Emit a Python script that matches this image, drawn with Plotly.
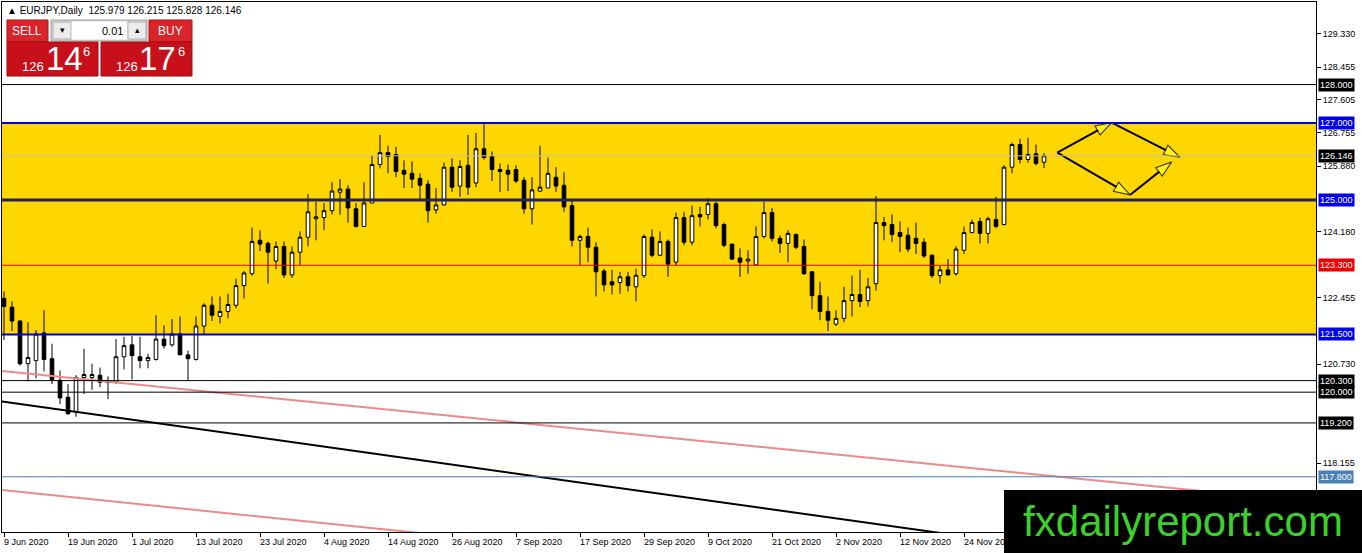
import plotly.graph_objects as go

FONT = "Liberation Sans"

# EURJPY daily candles from 9 Jun 2020
opens = [
    122.44, 122.21, 121.85, 120.74, 120.82, 121.54, 120.87, 120.31, 119.87, 119.49,
    120.38, 120.38, 120.44, 120.26, 120.26, 120.92, 121.23, 120.92, 120.82, 120.85,
    121.38, 121.23, 121.51, 120.97, 120.85, 121.72, 122.26, 121.97, 122.10, 122.26,
    122.77, 123.08, 123.95, 123.87, 123.41, 123.79, 123.05, 123.64, 124.03, 124.51,
    124.54, 124.72, 125.20, 125.28, 124.77, 124.31, 124.92, 125.92, 126.23, 126.18,
    125.77, 125.69, 125.56, 125.41, 124.74, 124.87, 125.85, 125.36, 125.90, 125.44,
    126.33, 126.13, 125.79, 125.77, 125.79, 125.51, 124.77, 125.23, 125.31, 125.59,
    125.38, 124.85, 123.95, 124.05, 123.77, 123.15, 122.87, 122.85, 123.00, 122.74,
    123.03, 124.03, 123.56, 123.92, 123.38, 124.54, 123.90, 124.62, 124.62, 124.90,
    124.36, 123.85, 123.49, 123.41, 123.31, 124.05, 124.67, 124.00, 123.87, 124.10,
    123.79, 123.13, 122.51, 122.10, 121.77, 121.92, 122.38, 122.54, 122.38, 122.82,
    124.41, 124.36, 124.15, 124.08, 124.00, 123.90, 123.56, 123.03, 123.18, 123.08,
    123.69, 124.15, 124.44, 124.13, 124.49, 124.36, 125.85, 126.44, 126.05, 126.20,
    125.979,
]
highs = [
    122.62, 122.36, 121.87, 121.82, 121.62, 122.13, 121.26, 120.56, 120.21, 120.44,
    121.13, 120.74, 120.64, 120.41, 121.38, 121.44, 121.46, 121.44, 121.00, 122.00,
    121.74, 121.90, 121.97, 121.08, 121.97, 122.31, 122.49, 122.49, 122.56, 122.95,
    123.15, 124.28, 124.21, 123.92, 123.92, 123.92, 123.79, 124.18, 125.15, 124.95,
    124.92, 125.46, 125.54, 125.38, 124.92, 125.46, 126.15, 126.69, 126.41, 126.38,
    126.03, 126.00, 125.69, 125.51, 125.31, 125.97, 126.08, 126.03, 126.69, 126.74,
    126.97, 126.26, 125.95, 125.92, 125.90, 125.59, 125.59, 126.41, 126.10, 125.85,
    125.72, 125.00, 124.10, 124.28, 123.90, 123.21, 123.18, 123.13, 123.13, 123.21,
    124.10, 124.23, 124.18, 123.97, 124.67, 124.69, 124.85, 124.82, 125.05, 124.95,
    124.41, 123.85, 123.74, 123.69, 124.31, 124.95, 124.79, 124.08, 124.21, 124.13,
    123.97, 123.13, 122.87, 122.49, 122.13, 122.74, 123.03, 123.18, 122.97, 125.10,
    124.56, 124.62, 124.44, 124.28, 124.41, 124.00, 123.59, 123.28, 123.46, 123.79,
    124.31, 124.49, 124.54, 124.56, 125.08, 125.90, 126.49, 126.59, 126.62, 126.44,
    126.215,
]
lows = [
    121.36, 121.59, 120.69, 120.28, 120.36, 120.54, 120.21, 119.69, 119.41, 119.36,
    119.95, 120.06, 120.13, 119.82, 120.21, 120.59, 120.33, 120.62, 120.62, 120.82,
    121.13, 121.18, 120.97, 120.31, 120.82, 121.49, 121.85, 121.79, 121.92, 122.18,
    122.44, 123.03, 123.67, 122.82, 123.20, 122.97, 122.97, 123.30, 123.79, 123.95,
    124.21, 124.62, 124.62, 124.41, 124.28, 124.31, 124.92, 125.82, 125.69, 125.59,
    125.31, 125.31, 125.00, 124.41, 124.64, 124.85, 125.21, 125.08, 125.13, 125.33,
    126.05, 125.49, 125.21, 125.23, 125.44, 124.64, 124.36, 125.21, 125.31, 125.21,
    124.69, 123.79, 123.30, 123.38, 122.49, 122.62, 122.54, 122.56, 122.62, 122.36,
    122.97, 123.51, 123.54, 123.00, 123.28, 123.82, 123.82, 124.31, 124.49, 124.26,
    123.77, 123.44, 123.00, 123.08, 123.31, 124.00, 123.92, 123.62, 123.38, 123.72,
    123.05, 122.15, 121.87, 121.59, 121.72, 121.82, 121.97, 122.21, 122.23, 122.64,
    123.95, 123.90, 123.64, 123.64, 123.59, 123.49, 122.97, 122.82, 123.03, 123.03,
    123.59, 124.13, 123.87, 123.87, 124.26, 124.33, 125.69, 125.95, 125.97, 125.90,
    125.828,
]
closes = [
    122.23, 121.85, 120.74, 120.90, 121.51, 120.85, 120.33, 119.85, 119.44, 120.38,
    120.46, 120.46, 120.26, 120.27, 120.92, 121.21, 120.95, 120.82, 120.90, 121.38,
    121.21, 121.51, 120.97, 120.87, 121.72, 122.26, 122.00, 122.10, 122.28, 122.77,
    123.10, 123.92, 123.85, 123.64, 123.79, 123.05, 123.64, 124.03, 124.69, 124.56,
    124.72, 125.23, 125.28, 124.79, 124.31, 124.92, 125.92, 126.23, 126.13, 125.74,
    125.67, 125.54, 125.38, 124.72, 124.87, 125.85, 125.33, 125.87, 125.33, 126.33,
    126.10, 125.79, 125.74, 125.67, 125.49, 124.77, 125.26, 125.33, 125.69, 125.36,
    124.82, 123.95, 124.05, 123.77, 123.13, 122.79, 122.79, 123.00, 122.77, 123.04,
    124.05, 123.56, 123.92, 123.33, 124.54, 123.90, 124.59, 124.56, 124.90, 124.33,
    123.82, 123.46, 123.38, 123.46, 124.05, 124.67, 124.00, 123.87, 124.13, 123.77,
    123.08, 122.51, 122.10, 121.87, 121.92, 122.38, 122.54, 122.36, 122.74, 124.41,
    124.33, 124.10, 124.05, 123.72, 123.87, 123.54, 123.03, 123.18, 123.05, 123.72,
    124.15, 124.41, 124.13, 124.51, 124.31, 125.85, 126.44, 126.05, 126.18, 125.95,
    126.146,
]
bar_index = list(range(len(closes)))

# date labels on the time axis (bar number -> label)
tick_index = [0, 8, 16, 24, 32, 40, 48, 56, 64, 72, 80, 88, 96, 104, 112, 120]
tick_labels = [
    "9 Jun 2020", "19 Jun 2020", "1 Jul 2020", "13 Jul 2020", "23 Jul 2020",
    "4 Aug 2020", "14 Aug 2020", "26 Aug 2020", "7 Sep 2020", "17 Sep 2020",
    "29 Sep 2020", "9 Oct 2020", "21 Oct 2020", "2 Nov 2020", "12 Nov 2020",
    "24 Nov 2020",
]
price_ticks = [129.33, 128.455, 127.605, 126.755, 125.88, 124.18, 122.455,
               120.73, 118.155]

# horizontal levels drawn on the chart
levels = [128.0, 127.0, 126.146, 125.0, 123.3, 121.5, 120.3, 120.0, 119.2, 117.8]
level_colors = ["black", "#0000dd", "#c0c0c0", "#23235c", "#e00000", "#0000dd",
                "black", "black", "black", "#4a80b4"]
level_widths = [1, 2, 1, 3, 1, 2, 1, 1, 1, 1]
level_tags = ["black", "#0000ee", "black", "#0000ee", "#ee0000", "#0000ee",
              "black", "black", "black", "#4a80b4"]
zone_low, zone_high = 121.5, 127.0

# trend lines (bar number, price)
pink_top_x, pink_top_y = [-0.25, 164.0], [120.55, 117.13]
pink_low_x, pink_low_y = [-0.25, 70.0], [117.455, 115.95]
black_x, black_y = [-0.25, 130.0], [119.757, 115.96]

# projected path arrows
up_path_x, up_path_y = [131.66, 138.46, 147.0], [126.23, 127.01, 126.11]
down_path_x, down_path_y = [131.66, 140.75, 145.96], [126.23, 125.13, 125.99]

# plot area in pixels
L, R, T, B = 2, 1316, 2, 532


def fx(x):
    return (x - L) / (R - L)


def fy(y):
    return (B - y) / (B - T)


fig = go.Figure()

for xs, ys, col in [(pink_top_x, pink_top_y, "#ec8a8a"),
                    (pink_low_x, pink_low_y, "#ec8a8a"),
                    (black_x, black_y, "black")]:
    fig.add_trace(go.Scatter(x=xs, y=ys, mode="lines",
                             line=dict(color=col, width=2), hoverinfo="skip"))

fig.add_trace(go.Candlestick(
    x=bar_index, open=opens, high=highs, low=lows, close=closes,
    increasing=dict(line=dict(color="black", width=1), fillcolor="white"),
    decreasing=dict(line=dict(color="black", width=1), fillcolor="black"),
    whiskerwidth=0, hoverinfo="skip",
))

for xs, ys in [(up_path_x, up_path_y), (down_path_x, down_path_y)]:
    fig.add_trace(go.Scatter(
        x=xs, y=ys, mode="lines+markers",
        line=dict(color="black", width=2),
        marker=dict(symbol="arrow", size=[0, 17, 17], angleref="previous",
                    color="#ffff22", line=dict(color="black", width=1.2)),
        hoverinfo="skip",
    ))

# yellow range
fig.add_shape(type="rect", xref="paper", yref="y", x0=0, x1=1,
              y0=zone_low, y1=zone_high, fillcolor="#ffd700",
              line=dict(width=0), layer="below")

for lvl, col, w, tag in zip(levels, level_colors, level_widths, level_tags):
    fig.add_shape(type="line", xref="paper", yref="y", x0=0, x1=1,
                  y0=lvl, y1=lvl, line=dict(color=col, width=w), layer="above")
    fig.add_annotation(xref="paper", yref="y", x=1, y=lvl, xshift=2,
                       xanchor="left", yanchor="middle", text=f"{lvl:.3f}",
                       showarrow=False, bgcolor=tag, borderpad=1,
                       font=dict(family=FONT, size=9, color="white"))

# header line
fig.add_annotation(xref="paper", yref="paper", x=fx(5), y=fy(11), xanchor="left",
                   yanchor="middle", showarrow=False,
                   text="▲ EURJPY,Daily  125.979 126.215 125.828 126.146",
                   font=dict(family=FONT, size=10, color="black"))


# one-click trading panel
def box(x0, y0, x1, y1, fill, edge=None):
    fig.add_shape(type="rect", xref="paper", yref="paper",
                  x0=fx(x0), x1=fx(x1), y0=fy(y1), y1=fy(y0),
                  fillcolor=fill, line=dict(color=edge or fill, width=1),
                  layer="above")


def text(x, y, s, size, color="white", anchor="center"):
    fig.add_annotation(xref="paper", yref="paper", x=fx(x), y=fy(y), text=s,
                       showarrow=False, xanchor=anchor, yanchor="middle",
                       font=dict(family=FONT, size=size, color=color))


box(7, 20, 48, 42, "#d9242a", "#b01015")
box(149, 20, 192, 42, "#d9242a", "#b01015")
box(51, 20, 147, 41, "#d6d6d6", "#a0a0a0")
box(53, 22, 71, 39, "#ececec", "#b0b0b0")
box(72, 22, 127, 39, "white", "white")
box(128, 22, 146, 39, "#ececec", "#b0b0b0")
box(7, 42, 98, 76, "#c8101a", "#a00a10")
box(101, 42, 192, 76, "#c8101a", "#a00a10")

text(27, 31, "SELL", 12)
text(170, 31, "BUY", 12)
text(62, 30, "▾", 9, "black")
text(137, 30, "▴", 9, "black")
text(125, 31, "0.01", 11, "black", "right")
text(33, 67, "126", 13)
text(64, 59, "14", 33)
text(86, 52, "6", 13)
text(127, 67, "126", 13)
text(157, 59, "17", 33)
text(181, 52, "6", 13)

# date labels, left aligned at each tick like the terminal does
for i, lab in zip(tick_index, tick_labels):
    fig.add_annotation(xref="x", yref="paper", x=i, y=0, yshift=-3, xshift=-2,
                       xanchor="left", yanchor="top", text=lab, showarrow=False,
                       font=dict(family=FONT, size=9, color="black"))

# watermark
fig.add_annotation(xref="paper", yref="paper", x=fx(1004), y=fy(553),
                   xanchor="left", yanchor="bottom", width=358, height=63,
                   bgcolor="black", borderpad=0, borderwidth=0, showarrow=False,
                   text="fxdailyreport.com", align="center", valign="middle",
                   font=dict(family=FONT, size=42, color="#3ad12b"))

fig.update_layout(
    width=1362, height=553,
    margin=dict(l=L, r=1362 - R, t=T, b=553 - B),
    paper_bgcolor="white", plot_bgcolor="white",
    showlegend=False, hovermode=False, boxgap=0.35,
    font=dict(family=FONT, size=9, color="black"),
    xaxis=dict(range=[-0.25, 164], rangeslider=dict(visible=False),
               showgrid=False, zeroline=False, showline=True, mirror=True,
               linecolor="black", linewidth=1, tickmode="array",
               tickvals=tick_index, showticklabels=False, ticks="outside",
               ticklen=4, tickcolor="black"),
    yaxis=dict(range=[116.363, 130.147], side="right", showgrid=False,
               zeroline=False, showline=True, mirror=True, linecolor="black",
               linewidth=1, tickmode="array", tickvals=price_ticks,
               ticktext=[f"{v:.3f}" for v in price_ticks], ticks="outside",
               ticklen=4, tickcolor="black",
               tickfont=dict(family=FONT, size=9, color="black")),
)

# the page body has a default 8px margin; drop it so the chart sits at 0,0
fig.write_html("out.html", config={"displayModeBar": False},
               post_script="document.body.style.margin='0';")
